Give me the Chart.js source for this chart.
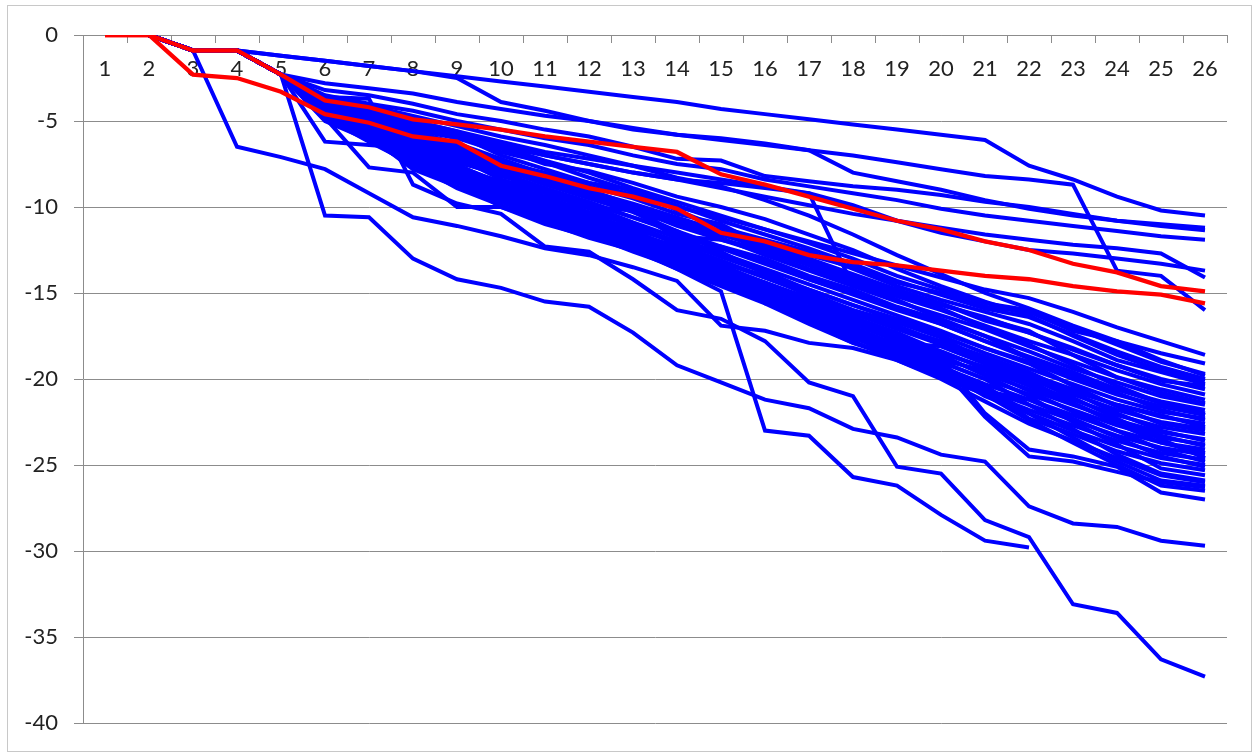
<!DOCTYPE html>
<html>
<head>
<meta charset="utf-8">
<script src="https://cdn.jsdelivr.net/npm/chart.js@4"></script>
<style>
  html, body { margin: 0; padding: 0; background: #fff; }
  #wrap { width: 1254px; height: 753px; }
</style>
</head>
<body>
<div id="wrap"><canvas id="runsChart" width="1254" height="753"></canvas></div>
<script>
// Categorias do eixo x
const rounds = ['1','2','3','4','5','6','7','8','9','10','11','12','13','14','15','16','17','18','19','20','21','22','23','24','25','26'];

// Séries em vermelho
const redUpper = [0,0,-0.9,-0.9,-2.3,-3.8,-4.2,-4.9,-5.2,-5.5,-5.9,-6.2,-6.5,-6.8,-8.1,-8.7,-9.4,-10.1,-10.8,-11.3,-12.0,-12.5,-13.3,-13.8,-14.6,-14.9];
const redLower = [0,0,-2.3,-2.5,-3.3,-4.6,-5.1,-5.9,-6.2,-7.6,-8.2,-8.9,-9.4,-10.1,-11.5,-12.0,-12.8,-13.2,-13.4,-13.7,-14.0,-14.2,-14.6,-14.9,-15.1,-15.6];

// Séries azuis acima da faixa principal
const upperRuns = [
    [0,0,-0.9,-0.9,-1.2,-1.5,-1.8,-2.1,-2.4,-2.7,-3.0,-3.3,-3.6,-3.9,-4.3,-4.6,-4.9,-5.2,-5.5,-5.8,-6.1,-7.6,-8.4,-9.4,-10.2,-10.5],
    [0,0,-0.9,-0.9,-1.2,-1.5,-1.8,-2.1,-2.5,-3.9,-4.4,-5.0,-5.5,-5.8,-6.1,-6.4,-6.7,-7.0,-7.4,-7.8,-8.2,-8.4,-8.7,-13.7,-14.0,-16.0],
    [0,0,-0.9,-0.9,-2.3,-2.8,-3.1,-3.4,-3.9,-4.3,-4.7,-5.0,-5.4,-5.8,-6.0,-6.3,-6.7,-8.0,-8.5,-9.0,-9.6,-10.1,-10.5,-10.8,-11.0,-11.2],
    [0,0,-0.9,-0.9,-2.3,-3.2,-3.5,-4.0,-4.6,-5.0,-5.5,-5.9,-6.5,-7.2,-7.3,-8.2,-8.5,-8.8,-9.0,-9.3,-9.7,-10.0,-10.4,-10.8,-11.1,-11.35],
    [0,0,-0.9,-0.9,-2.3,-3.5,-4.0,-4.4,-5.0,-5.5,-6.0,-6.4,-7.0,-7.5,-7.8,-8.4,-8.8,-9.2,-9.6,-10.1,-10.5,-10.8,-11.1,-11.4,-11.7,-11.9],
    [0,0,-0.9,-0.9,-2.3,-3.8,-4.5,-5.0,-5.6,-6.2,-6.8,-7.2,-7.6,-8.0,-8.4,-8.8,-9.2,-9.9,-10.8,-11.5,-12.0,-12.5,-12.7,-13.0,-13.3,-13.7],
    [0,0,-0.9,-0.9,-2.3,-4.0,-4.8,-5.5,-6.0,-6.5,-7.0,-7.5,-8.0,-8.4,-8.9,-9.4,-9.9,-10.4,-10.8,-11.2,-11.6,-11.9,-12.2,-12.4,-12.7,-14.1],
    [0,0,-0.9,-0.9,-2.3,-4.2,-5.0,-6.0,-6.8,-7.4,-8.0,-8.6,-9.3,-10.0,-10.6,-11.3,-12.0,-12.7,-13.4,-14.1,-14.8,-15.3,-16.1,-17.0,-17.8,-18.6],
    [0,0,-0.9,-0.9,-2.3,-4.3,-5.2,-6.3,-7.0,-7.8,-8.6,-9.3,-10.0,-10.8,-11.4,-12.1,-12.8,-13.5,-14.4,-15.0,-15.8,-16.1,-17.2,-17.8,-18.5,-19.1],
    [0,0,-0.9,-0.9,-2.3,-3.9,-4.3,-5.2,-5.8,-6.3,-7.0,-7.5,-8.0,-8.4,-8.6,-8.9,-9.2,-14.6,-15.1,-15.6,-16.5,-17.2,-18.6,-19.9,-20.8,-21.4],
    [0,0,-0.9,-0.9,-2.3,-3.7,-4.1,-4.7,-5.3,-5.9,-6.4,-7.0,-7.6,-8.3,-8.8,-9.6,-10.5,-11.6,-12.8,-13.9,-15.0,-15.9,-16.9,-17.8,-18.9,-19.8],
    [0,0,-0.9,-0.9,-2.3,-3.9,-4.4,-5.3,-5.9,-6.6,-7.5,-7.9,-8.6,-9.4,-10.0,-10.7,-11.6,-12.5,-13.6,-14.6,-15.5,-16.3,-17.5,-18.6,-19.5,-20.1]
];

// Séries azuis abaixo da faixa principal
const lowerRuns = [
    [0,0,-0.9,-6.5,-7.1,-7.8,-9.2,-10.6,-11.1,-11.7,-12.4,-12.8,-13.5,-14.3,-16.9,-17.2,-17.9,-18.2,-18.9,-20.0,-21.3,-22.6,-23.6,-24.6,-25.6,-26.0],
    [0,0,-0.9,-0.9,-2.3,-10.5,-10.6,-13.0,-14.2,-14.7,-15.5,-15.8,-17.3,-19.2,-20.2,-21.2,-21.7,-22.9,-23.4,-24.4,-24.8,-27.4,-28.4,-28.6,-29.4,-29.7],
    [0,0,-0.9,-0.9,-2.3,-4.4,-5.6,-7.1,-8.3,-9.4,-10.6,-11.5,-12.4,-13.6,-14.9,-23.0,-23.3,-25.7,-26.2,-27.9,-29.4,-29.8,null,null,null,null],
    [0,0,-0.9,-0.9,-2.3,-3.6,-3.7,-8.7,-9.8,-10.4,-12.3,-12.6,-14.2,-16.0,-16.5,-17.8,-20.2,-21.0,-25.1,-25.5,-28.2,-29.2,-33.1,-33.6,-36.3,-37.3],
    [0,0,-0.9,-0.9,-2.3,-4.8,-7.7,-8.0,-10.0,-10.0,-10.8,-11.3,-12.0,-12.6,-13.4,-14.4,-15.4,-16.4,-17.3,-18.4,-19.4,-20.4,-21.4,-22.5,-23.3,-23.9],
    [0,0,-0.9,-0.9,-2.3,-6.2,-6.4,-6.6,-7.4,-8.0,-8.9,-9.7,-10.6,-11.4,-12.3,-13.2,-14.2,-15.0,-15.9,-16.8,-17.8,-18.7,-19.6,-20.6,-21.4,-22.1],
    [0,0,-0.9,-0.9,-2.3,-4.4,-5.5,-6.9,-8.0,-9.1,-10.2,-11.2,-12.2,-13.2,-14.2,-15.2,-16.4,-17.6,-18.2,-18.8,-22.0,-24.1,-24.5,-25.1,-26.6,-27.0],
    [0,0,-0.9,-0.9,-2.3,-4.5,-5.6,-7.0,-8.2,-9.3,-10.4,-11.4,-12.4,-13.4,-14.4,-15.5,-16.7,-17.9,-18.6,-19.3,-22.2,-24.5,-24.8,-25.4,-26.0,-26.3]
];

// Faixa principal
const bandRuns = [
    [0,0,-0.9,-0.9,-2.3,-3.8,-4.3,-5.0,-5.6,-6.5,-7.3,-8.0,-8.9,-9.7,-10.5,-11.3,-12.1,-13.0,-14.0,-14.8,-15.6,-16.0,-17.0,-18.0,-19.0,-19.7],
    [0,0,-0.9,-0.9,-2.3,-3.9,-4.5,-5.3,-6.0,-6.8,-7.4,-8.3,-9.1,-9.9,-10.8,-11.6,-12.4,-13.3,-14.3,-15.1,-15.9,-16.4,-17.4,-18.4,-19.3,-20.0],
    [0,0,-0.9,-0.9,-2.3,-4.0,-4.4,-5.5,-5.8,-7.0,-7.8,-8.6,-9.0,-10.2,-11.2,-11.9,-12.6,-13.6,-14.6,-15.4,-16.1,-16.8,-17.8,-18.9,-19.6,-20.3],
    [0,0,-0.9,-0.9,-2.3,-4.1,-4.6,-5.6,-6.3,-7.2,-8.1,-8.8,-9.5,-10.4,-11.0,-12.3,-13.1,-14.0,-14.8,-15.6,-16.6,-17.3,-18.2,-19.2,-20.0,-20.6],
    [0,0,-0.9,-0.9,-2.3,-4.2,-4.8,-5.8,-6.5,-7.5,-8.3,-9.0,-9.9,-11.7,-11.9,-12.5,-13.4,-14.3,-15.2,-16.0,-16.9,-17.8,-18.6,-19.5,-20.3,-20.9],
    [0,0,-0.9,-0.9,-2.3,-4.0,-4.9,-6.0,-6.9,-7.7,-8.5,-9.3,-10.2,-11.0,-11.8,-12.8,-13.7,-14.6,-15.5,-16.3,-17.1,-18.1,-19.0,-19.9,-20.6,-21.2],
    [0,0,-0.9,-0.9,-2.3,-4.3,-5.0,-5.9,-6.7,-7.9,-9.8,-10.0,-10.2,-11.8,-12.3,-13.0,-14.0,-14.8,-15.8,-16.6,-17.5,-18.4,-19.4,-20.2,-21.0,-21.5],
    [0,0,-0.9,-0.9,-2.3,-4.4,-5.1,-6.2,-7.0,-8.0,-9.0,-9.8,-10.6,-11.5,-12.4,-13.3,-14.2,-15.1,-16.0,-16.8,-17.8,-18.8,-19.7,-20.6,-21.3,-21.8],
    [0,0,-0.9,-0.9,-2.3,-4.2,-5.3,-6.4,-7.3,-8.2,-8.9,-9.9,-10.9,-11.8,-12.7,-13.6,-14.5,-15.4,-16.3,-17.2,-18.2,-19.0,-20.0,-20.9,-21.6,-22.1],
    [0,0,-0.9,-0.9,-2.3,-4.5,-5.2,-6.1,-7.1,-8.4,-9.2,-10.1,-11.1,-12.0,-12.9,-13.8,-14.8,-15.7,-16.6,-17.5,-18.5,-19.4,-20.3,-21.2,-21.9,-22.3],
    [0,0,-0.9,-0.9,-2.3,-4.6,-5.4,-6.6,-7.6,-8.6,-9.4,-10.3,-11.0,-12.2,-13.1,-14.1,-15.0,-16.0,-16.9,-17.9,-18.8,-19.7,-20.6,-21.5,-22.2,-22.6],
    [0,0,-0.9,-0.9,-2.3,-4.3,-5.5,-6.8,-7.8,-8.5,-9.6,-10.5,-11.4,-12.4,-13.4,-15.6,-15.8,-17.4,-17.9,-18.1,-19.1,-20.0,-20.9,-21.8,-22.5,-22.9],
    [0,0,-0.9,-0.9,-2.3,-4.7,-5.6,-6.5,-7.5,-8.8,-9.8,-10.7,-11.6,-12.6,-13.6,-14.5,-15.5,-16.5,-17.5,-18.4,-19.4,-20.3,-21.2,-22.1,-22.8,-23.2],
    [0,0,-0.9,-0.9,-2.3,-4.8,-5.7,-7.0,-8.0,-9.0,-10.0,-10.8,-11.8,-12.8,-13.8,-14.8,-15.8,-16.8,-17.8,-18.7,-19.7,-20.6,-21.5,-22.4,-23.1,-23.5],
    [0,0,-0.9,-0.9,-2.3,-4.4,-5.8,-7.2,-8.2,-9.2,-10.1,-11.0,-12.0,-13.0,-14.0,-15.0,-16.0,-17.0,-18.0,-19.0,-20.0,-20.9,-21.8,-22.7,-23.4,-23.8],
    [0,0,-0.9,-0.9,-2.3,-4.9,-6.0,-7.4,-8.4,-9.3,-10.3,-11.2,-12.2,-13.2,-14.2,-15.2,-16.2,-17.2,-18.2,-19.3,-20.3,-21.2,-22.1,-23.0,-23.7,-24.1],
    [0,0,-0.9,-0.9,-2.3,-5.0,-6.1,-7.6,-8.6,-9.5,-10.5,-11.4,-12.4,-13.4,-14.4,-15.4,-16.5,-17.5,-18.5,-19.6,-20.6,-21.5,-22.4,-23.3,-24.0,-24.4],
    [0,0,-0.9,-0.9,-2.3,-4.6,-5.9,-7.8,-8.8,-9.7,-10.7,-11.6,-12.6,-13.5,-14.5,-15.5,-16.6,-17.6,-18.6,-19.8,-20.8,-21.8,-22.7,-23.6,-24.3,-24.7],
    [0,0,-0.9,-0.9,-2.3,-4.8,-6.2,-7.5,-8.9,-9.9,-10.9,-11.8,-12.5,-13.3,-14.3,-15.3,-16.4,-17.4,-18.4,-19.5,-21.0,-22.0,-23.0,-23.9,-24.6,-25.0],
    [0,0,-0.9,-0.9,-2.3,-4.5,-5.7,-7.3,-8.5,-10.0,-11.0,-11.7,-12.3,-13.0,-14.0,-15.0,-16.1,-17.2,-18.2,-19.2,-20.5,-22.3,-23.2,-24.2,-24.9,-25.3],
    [0,0,-0.9,-0.9,-2.3,-3.9,-4.7,-6.3,-7.2,-7.8,-8.7,-9.5,-10.3,-11.4,-12.6,-13.9,-15.2,-16.4,-17.6,-18.6,-19.8,-21.0,-22.5,-23.8,-25.2,-25.6],
    [0,0,-0.9,-0.9,-2.3,-4.1,-5.0,-6.7,-7.9,-8.9,-9.7,-10.6,-11.5,-12.4,-13.3,-14.6,-15.9,-17.0,-18.1,-19.0,-20.0,-21.5,-22.9,-24.4,-25.5,-25.9],
    [0,0,-0.9,-0.9,-2.3,-4.3,-5.3,-6.9,-8.1,-9.1,-10.0,-10.9,-11.9,-12.9,-13.9,-15.0,-16.1,-17.3,-18.4,-19.4,-20.4,-22.0,-23.4,-24.8,-25.9,-26.2],
    [0,0,-0.9,-0.9,-2.3,-4.6,-5.5,-7.1,-8.3,-9.4,-10.4,-11.3,-12.3,-13.3,-14.3,-15.4,-16.6,-17.8,-18.9,-19.9,-20.9,-22.4,-23.7,-25.0,-26.2,-26.5],
    [0,0,-0.9,-0.9,-2.3,-4.0,-4.6,-5.7,-6.4,-7.3,-8.2,-9.2,-10.0,-10.9,-11.6,-12.4,-13.2,-14.1,-15.0,-15.9,-17.0,-18.0,-19.2,-20.4,-21.4,-22.0],
    [0,0,-0.9,-0.9,-2.3,-4.2,-4.9,-6.0,-6.6,-7.6,-8.6,-9.4,-10.1,-11.1,-11.9,-12.7,-13.6,-14.4,-15.4,-16.5,-17.5,-18.8,-19.8,-20.8,-21.8,-22.4],
    [0,0,-0.9,-0.9,-2.3,-4.5,-5.1,-6.3,-7.4,-8.1,-9.1,-10.0,-11.2,-12.1,-13.2,-14.0,-14.8,-15.7,-16.5,-17.3,-18.2,-19.1,-20.4,-21.6,-22.6,-23.0],
    [0,0,-0.9,-0.9,-2.3,-4.7,-5.4,-7.0,-8.0,-8.7,-9.5,-10.4,-11.3,-12.0,-12.8,-13.7,-14.9,-16.2,-17.0,-17.8,-18.7,-19.6,-20.8,-22.0,-23.0,-23.6],
    [0,0,-0.9,-0.9,-2.3,-4.4,-5.6,-6.6,-7.7,-8.9,-9.9,-10.9,-11.7,-12.7,-13.7,-14.7,-15.6,-16.7,-17.7,-18.5,-19.3,-20.1,-21.4,-22.6,-23.7,-24.3],
    [0,0,-0.9,-0.9,-2.3,-4.9,-5.8,-7.1,-8.1,-9.2,-10.2,-11.1,-12.1,-12.9,-13.6,-14.4,-15.4,-16.6,-17.8,-18.9,-19.5,-20.7,-21.9,-23.0,-24.1,-24.8],
    [0,0,-0.9,-0.9,-2.3,-4.3,-5.2,-6.5,-7.6,-8.6,-9.5,-10.6,-11.5,-12.3,-13.2,-14.1,-15.1,-16.0,-16.7,-17.6,-18.9,-19.9,-21.1,-22.3,-23.5,-24.6],
    [0,0,-0.9,-0.9,-2.3,-4.6,-5.5,-6.8,-7.7,-8.7,-9.7,-10.5,-11.4,-12.5,-13.5,-14.4,-15.3,-16.2,-17.1,-18.0,-18.9,-19.8,-20.7,-21.5,-22.1,-22.8],
    [0,0,-0.9,-0.9,-2.3,-4.1,-4.8,-5.8,-6.8,-7.7,-8.4,-9.1,-9.8,-10.6,-11.4,-12.2,-13.0,-13.9,-14.8,-15.7,-16.4,-17.3,-18.3,-19.2,-20.1,-20.4],
    [0,0,-0.9,-0.9,-2.3,-4.8,-6.0,-7.3,-8.4,-9.6,-10.6,-11.5,-12.5,-13.6,-14.6,-15.6,-16.8,-17.9,-18.8,-19.8,-20.7,-21.2,-22.3,-23.4,-24.5,-25.1]
];

// Marcas do eixo y
const yMin = -40;
const yMax = 0;
const yStep = 5;

const axisGray = '#8c8c8c';
const labelFont = { family: 'Lato', size: 22 };

// Monta os datasets (vermelhos primeiro para ficarem por cima)
function line(values, color, width) {
    return {
        data: values,
        borderColor: color,
        borderWidth: width,
        pointRadius: 0,
        tension: 0,
        fill: false,
        spanGaps: false
    };
}

const datasets = [
    line(redUpper, '#ff0000', 4.3),
    line(redLower, '#ff0000', 4.3)
];
upperRuns.concat(lowerRuns, bandRuns).forEach(function (run) {
    datasets.push(line(run, '#0000ff', 4));
});

// Fundo branco e moldura externa
const framePlugin = {
    id: 'frame',
    beforeDraw(chart) {
        const c = chart.ctx;
        c.save();
        c.fillStyle = '#ffffff';
        c.fillRect(0, 0, chart.width, chart.height);
        c.strokeStyle = '#c8c8c8';
        c.lineWidth = 1;
        c.strokeRect(7.5, 5.5, 1244, 746);
        c.restore();
    }
};

const ctx = document.getElementById('runsChart').getContext('2d');

const config = {
    type: 'line',
    data: {
        labels: rounds,
        datasets: datasets
    },
    options: {
        responsive: false,
        animation: false,
        devicePixelRatio: 1,
        layout: {
            padding: { left: 0, right: 27, top: 35, bottom: 30 }
        },
        plugins: {
            legend: { display: false },
            tooltip: { enabled: false }
        },
        scales: {
            x: {
                type: 'category',
                offset: true,
                position: { y: 0 },
                grid: {
                    offset: true,
                    drawOnChartArea: false,
                    drawTicks: true,
                    tickLength: 7,
                    color: axisGray
                },
                border: { display: true, color: axisGray, width: 1 },
                ticks: {
                    color: '#222',
                    font: labelFont,
                    padding: 14,
                    maxRotation: 0,
                    autoSkip: false
                }
            },
            y: {
                min: yMin,
                max: yMax,
                grid: {
                    color: axisGray,
                    tickLength: 9
                },
                border: { display: true, color: axisGray, width: 1 },
                ticks: {
                    stepSize: yStep,
                    color: '#222',
                    font: labelFont,
                    padding: 16
                },
                afterFit(scale) {
                    scale.width = 83;
                }
            }
        }
    },
    plugins: [framePlugin]
};

const runsChart = new Chart(ctx, config);
</script>
</body>
</html>
